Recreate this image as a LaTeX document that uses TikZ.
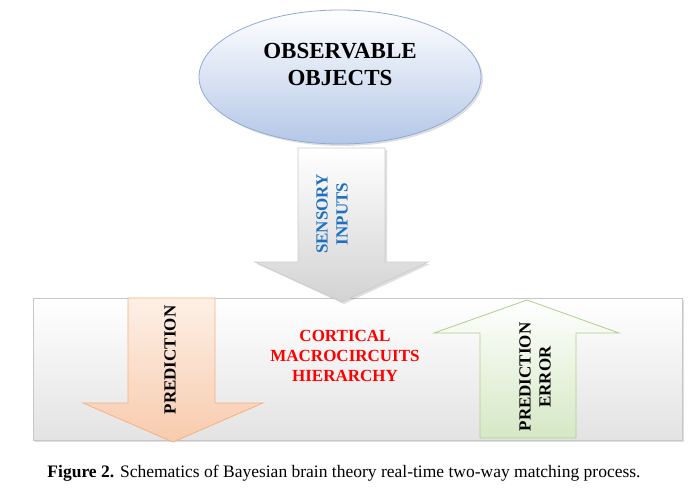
\documentclass[tikz,border=0pt]{standalone}
\usepackage{fontspec}
\setmainfont{Liberation Serif}
\usepackage{xcolor}
\usetikzlibrary{shadows,positioning}

\definecolor{obsfill}{HTML}{B4C7E7}
\definecolor{obsline}{HTML}{8EAADB}
\definecolor{sensblue}{HTML}{1F6FC0}
\definecolor{predfill}{HTML}{F8CBAD}
\definecolor{predline}{HTML}{F4B183}
\definecolor{errfill}{HTML}{D5E8C4}
\definecolor{errline}{HTML}{A9D18E}

\begin{document}
\begin{tikzpicture}[x=1pt,y=-1pt,
	bigtext/.style={font=\bfseries\fontsize{23}{27}\selectfont,align=center},
	lbltext/.style={font=\bfseries\fontsize{17}{20}\selectfont,align=center},
	softshadow/.style={drop shadow={opacity=0.25,shadow xshift=2pt,shadow yshift=-2pt}}]
	\useasboundingbox (0,0) rectangle (695,498);
	% observable objects
	\shade[top color=white,bottom color=obsfill,draw=obsline,thick,softshadow] (340,77) ellipse (141 and 67);
	\node[bigtext] (obs) at (340,64) {OBSERVABLE\\OBJECTS};
	% cortical box
	\shade[top color=white,bottom color=gray!22,draw=gray!45,thick,softshadow] (33,298) rectangle (682,440);
	% sensory inputs
	\shade[top color=white,bottom color=gray!35,draw=gray!40,thick,softshadow] (298,148) -- (385,148) -- (385,262) -- (428,262) -- (342,302) -- (255,262) -- (298,262) -- cycle;
	\node[lbltext,text=sensblue,rotate=90] (sens) at (332,214) {SENSORY\\INPUTS};
	% prediction
	\shade[top color=predfill!30,bottom color=predfill,draw=predline,thick] (128,298) -- (215,298) -- (215,403) -- (263,403) -- (173,442) -- (83,403) -- (128,403) -- cycle;
	\node[lbltext,rotate=90] (pred) at (170,360) {PREDICTION};
	% prediction error
	\shade[top color=white,bottom color=errfill,draw=errline,thick] (527,300) -- (619,333) -- (576,333) -- (576,438) -- (480,438) -- (480,333) -- (434,333) -- cycle;
	\node[lbltext,rotate=90] (err) at (535,377) {PREDICTION\\ERROR};
	\node[lbltext,text=red] (cort) at (345,356) {CORTICAL\\MACROCIRCUITS\\HIERARCHY};
	% caption
	\node[font=\fontsize{17.5}{20}\selectfont] (cap) at (344,473) {\textbf{Figure 2.} Schematics of Bayesian brain theory real-time two-way matching process.};
\end{tikzpicture}
\end{document}
